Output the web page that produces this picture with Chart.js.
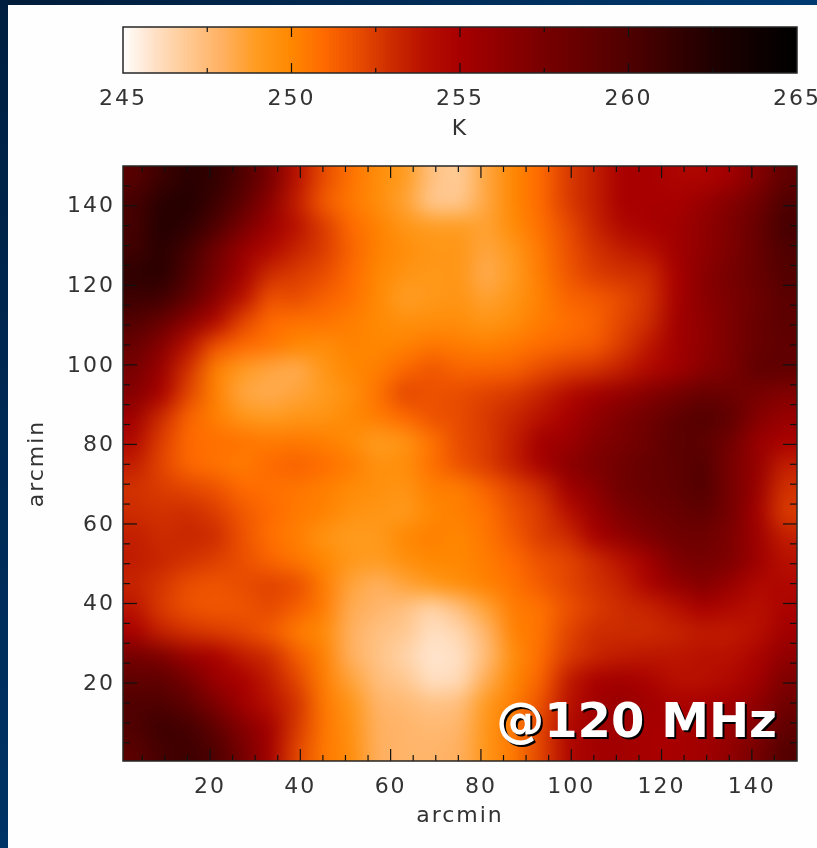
<!DOCTYPE html>
<html><head><meta charset="utf-8">
<style>
html,body{margin:0;padding:0;background:#fefefe;width:817px;height:848px;overflow:hidden}
#top{position:absolute;left:0;top:0;width:817px;height:5px;background:linear-gradient(90deg,#001c3a,#003a70)}
#left{position:absolute;left:0;top:0;width:8px;height:848px;background:linear-gradient(180deg,#001f40,#003366)}
#cbWrap{position:absolute;left:0;top:0;width:817px;height:145px}
#hmWrap{position:absolute;left:0;top:145px;width:817px;height:703px}
canvas{display:block}
</style>
<script src="https://cdn.jsdelivr.net/npm/chart.js@4"></script>
</head><body>
<div id="cbWrap"><canvas id="cb" width="817" height="145"></canvas></div>
<div id="hmWrap"><canvas id="hm" width="817" height="703"></canvas></div>
<div id="top"></div><div id="left"></div>
<script>
const colorbarLabels=[245,250,255,260,265];
const colorbarMinor=[247.5,252.5,257.5,262.5];
const axisMajor=[20,40,60,80,100,120,140];
const axisMinor=[5,10,15,25,30,35,45,50,55,65,70,75,85,90,95,105,110,115,125,130,135,145];
const cellX=[3,9,15,21,27,33,39,45,51,57,63,69,75,81,87,93,99,105,111,117,123,129,135,141,147];
const cellY=[147,141,135,129,123,117,111,105,99,93,87,81,75,69,63,57,51,45,39,33,27,21,15,9,3];
const colorStops=[[245,'#ffffff'],[246,'#ffe0c4'],[247,'#ffc890'],[248,'#ffb060'],[249,'#ff9c20'],[250,'#ff8800'],[251,'#ff6a00'],[252,'#e84c00'],[253,'#cc2c00'],[254,'#b81000'],[255,'#a80000'],[257.5,'#780000'],[260,'#500000'],[262.5,'#200000'],[265,'#000000']];
const temps=[
[259.5,261,262,261.5,260,257.5,254,252,250.7,249.7,249,247.3,246.8,248.5,250,251,252.5,253.5,255,255,254.7,254.7,255.3,256.8,259],
[260.5,262,262.3,261,259,256.5,253.5,251.5,250.5,249.7,248.7,247,247,248.5,250,251,252.5,253.5,255,255,255,255.8,256.8,258,260],
[260.5,262.3,261.7,260,257.5,255.5,254,252.5,251,250.2,249.3,249,249,248.7,249.8,250.8,252,253.3,254.5,255,255.3,256.2,257.2,258.5,260.5],
[260.8,262,260.5,258,255.8,254.5,253.3,252.5,251.2,250.2,249.7,249.3,249.3,248.5,249.2,250.5,251.8,252.8,253.5,254,255.3,256.2,257.2,258.5,260],
[261.7,262,260,257.5,255.3,253,252.5,252,251,250,249.4,249.2,249.3,248.2,249,250.4,251.6,252.5,252.8,253,255,256.5,257.6,258.5,259.8],
[261,260.8,259,256.5,254,251.8,252,251.3,250.8,249.9,248.9,249.2,249.4,248.7,249.3,250.2,251.2,251.5,252,252.8,255,256.5,257.3,258.2,259.3],
[259.8,258.5,256.5,254.5,252.2,251,250.7,250.7,250.3,249.9,249.6,249.7,249.7,249.3,249.7,250.4,250.8,251.2,252.2,253,255.3,256.2,257.3,258.5,259.2],
[258.5,256.7,254,251.8,251,250.6,250,249.7,250.2,250,250.2,250.6,250.4,250.2,250.5,250.9,251.2,251.5,252.5,253.8,255.3,256.2,257.3,258.5,259],
[257.5,255.7,252.8,250.2,249,248.5,248.2,249.3,250,250.3,251.1,251.7,251.2,251.2,251.3,252,252.5,252.8,253.5,254.5,255.3,256.5,257.3,259,259],
[256.8,255,252.2,250.2,248.5,248.2,248.6,249,249.6,250.7,252.2,251.8,252,252.3,252.6,253.3,254.3,255.3,256,256.8,257.6,258.5,258.2,257.5,257],
[255.5,253,251.2,250.3,249.3,249,249.3,249.4,249.9,250.4,251,251.8,252,252.6,253.2,254,255,256.2,257.2,258,259,259.8,259,256.8,255.8],
[254.5,252.4,251,250.8,250.7,250.4,250.5,250.3,249.8,249,249.4,250.7,252,252.5,253.5,255.3,255.5,256.8,257.4,258.2,259.3,259.1,258,255.8,255],
[253.5,252.2,251.1,250.7,250.4,251,251.3,250.9,250.4,249.5,249.7,250.8,251.8,252.5,253.5,255,256.5,257.2,258,258.6,259,259.8,257.4,256,253.5],
[252.8,252.5,252.2,251.8,251,250.8,250.6,250.3,249.8,249.6,249.4,250.3,250.3,251.2,252.2,253,255.3,256.5,258,258.5,259,259.8,257.6,255.8,252.8],
[253,252.8,253,252.5,251.6,251,250.5,250.2,249.5,249.3,249.1,250,250.3,250.7,251.8,252.5,254,255.8,257.2,258,258.5,259,257.6,255.3,252.5],
[253.5,253,253.2,253,251.8,250.8,250.3,249.4,249,249.1,250,250.3,250,250.6,251.5,252.5,253,255,256.2,257.2,258,258.2,257.2,255.5,253.5],
[253.6,253.2,252.8,252.4,251.9,251.2,250.6,250,249.2,249,249.6,250,250,250.4,251,251.8,252.2,253,254,255.3,257.2,257.6,257.2,255.5,254],
[253.3,252.7,251.9,251.7,252,252.3,252,250.4,248.6,248,248.6,249.2,249.7,250.2,250.7,251.5,252.2,252.8,253.4,254.8,256,256.8,255.8,254.5,254.5],
[253.9,252.5,251.8,251.6,251.7,252.1,251.4,250.4,248.2,247.8,247.3,246.5,247.4,248.7,250.4,250.7,251.8,252.5,253,253.3,254,255,254.5,254,254.8],
[255,253.4,252.8,252.5,252.2,251.5,250.4,249.8,248,247.3,247,246,246.4,247.8,250.2,250.7,252.2,253,253,253,253.3,253.6,253.6,254,255.3],
[257.6,257.2,255.7,255,253.6,253,251.5,250.2,248,247.2,246.5,245.8,246,247.5,249.7,250.9,252.5,253.2,253.6,253.8,253.8,254,254,254.8,256.2],
[259,259,257.6,255.7,255,253.6,252.2,250.3,248.6,247.4,247,246,246.2,248.2,250,251.2,253.6,255,255.3,254.8,254,254,254.5,255.3,257.2],
[260,260,259,257.2,255.3,254,252.8,250.5,249.3,247.8,247.6,247.2,247.4,249.1,250.3,251.8,253.9,255.3,255.8,255.3,254.8,255,255.3,256.2,258],
[260,261,260.5,259,256.8,255.3,252.6,250.6,249.5,248,247.8,247.6,247.8,249.3,250.5,252.2,254.5,255.3,255.3,255,255,255.3,255.8,256.8,259],
[259.3,260.5,261,260,257.6,255.3,252.2,250.5,249.7,248,247.8,247.8,248,249.3,250.5,252.2,254.5,255.3,255.3,255,255,255.3,256.2,257.6,259.8]
];
const TEXT='#333333', FONT='"DejaVu Sans"', FS=22;
function hexRgb(h){return [1,3,5].map(i=>parseInt(h.substr(i,2),16));}
function tempColor(v){
  let i=0;while(i<colorStops.length-2&&v>colorStops[i+1][0])i++;
  const a=colorStops[i],b=colorStops[i+1],t=Math.min(1,Math.max(0,(v-a[0])/(b[0]-a[0])));
  const ca=hexRgb(a[1]),cb=hexRgb(b[1]);
  return 'rgb('+ca.map((c,k)=>Math.round(c+(cb[k]-c)*t)).join(',')+')';
}
const cellPoints=[],cellColors=[];
temps.forEach((row,j)=>row.forEach((v,i)=>{cellPoints.push({x:cellX[i],y:cellY[j]});cellColors.push(tempColor(v));}));

function frame(ctx,a){ctx.save();ctx.strokeStyle='#262626';ctx.lineWidth=1.5;ctx.strokeRect(a.left,a.top,a.right-a.left,a.bottom-a.top);ctx.restore();}
function vTick(ctx,x,y0,y1){ctx.beginPath();ctx.moveTo(x,y0);ctx.lineTo(x,y1);ctx.stroke();}
function hTick(ctx,y,x0,x1){ctx.beginPath();ctx.moveTo(x0,y);ctx.lineTo(x1,y);ctx.stroke();}
const spacing={id:'spacing',beforeDraw(c){c.ctx.letterSpacing='2px';}};

const smooth={id:'smooth',afterDatasetsDraw(c){
  const {ctx,chartArea:a,scales:{x,y}}=c;
  const pad=4,nx=cellX.length,ny=cellY.length;
  const n=document.createElement('canvas');n.width=nx+2*pad;n.height=ny+2*pad;
  const s=n.getContext('2d');
  for(let j=-pad;j<ny+pad;j++)for(let i=-pad;i<nx+pad;i++){
    const ci=Math.min(nx-1,Math.max(0,i)),cj=Math.min(ny-1,Math.max(0,j));
    s.fillStyle=cellColors[cj*nx+ci];s.fillRect(i+pad,j+pad,1,1);
  }
  const cw=(x.getPixelForValue(150)-x.getPixelForValue(0))/nx,ch=(y.getPixelForValue(0)-y.getPixelForValue(150))/ny;
  ctx.save();ctx.beginPath();ctx.rect(a.left,a.top,a.right-a.left,a.bottom-a.top);ctx.clip();
  ctx.imageSmoothingEnabled=true;ctx.imageSmoothingQuality='low';ctx.filter='blur(7px)';
  ctx.drawImage(n,x.getPixelForValue(0)-pad*cw,y.getPixelForValue(150)-pad*ch,(nx+2*pad)*cw,(ny+2*pad)*ch);
  ctx.restore();
}};
const hmDecor={id:'hmDecor',afterDatasetsDraw(c){
  const {ctx,chartArea:a,scales:{x,y}}=c;
  ctx.save();ctx.strokeStyle='#111';ctx.lineWidth=1.2;
  axisMajor.forEach(v=>{const px=x.getPixelForValue(v),py=y.getPixelForValue(v);
    vTick(ctx,px,a.bottom,a.bottom-12);vTick(ctx,px,a.top,a.top+12);hTick(ctx,py,a.left,a.left+14);hTick(ctx,py,a.right,a.right-14);});
  axisMinor.forEach(v=>{const px=x.getPixelForValue(v),py=y.getPixelForValue(v);
    vTick(ctx,px,a.bottom,a.bottom-6);vTick(ctx,px,a.top,a.top+6);hTick(ctx,py,a.left,a.left+7);hTick(ctx,py,a.right,a.right-7);});
  ctx.restore();frame(ctx,a);
  ctx.save();ctx.letterSpacing='0px';ctx.font='bold 48px "DejaVu Sans"';ctx.textAlign='right';ctx.textBaseline='alphabetic';
  ctx.fillStyle='#000';ctx.fillText('@120 MHz',779,594);
  ctx.fillStyle='#fff';ctx.fillText('@120 MHz',777,592);
  ctx.restore();
}};
new Chart(document.getElementById('hm'),{
  type:'scatter',
  data:{datasets:[{data:cellPoints,pointStyle:'rect',pointRadius:20,pointHoverRadius:20,pointBorderWidth:0,backgroundColor:cellColors,borderColor:cellColors}]},
  plugins:[spacing,smooth,hmDecor],
  options:{responsive:false,animation:false,events:[],
    layout:{padding:{top:21,right:20,left:0,bottom:0}},
    plugins:{legend:{display:false},tooltip:{enabled:false}},
    scales:{
      x:{type:'linear',min:0.73,max:150,grid:{display:false},border:{display:false},
        afterBuildTicks(s){s.ticks=axisMajor.map(v=>({value:v}));},
        afterFit(s){s.height=87;s.paddingRight=0;s.paddingLeft=0;},
        ticks:{autoSkip:false,maxRotation:0,padding:5,color:TEXT,font:{family:FONT,size:FS}},
        title:{display:true,text:'arcmin',color:TEXT,font:{family:FONT,size:FS},padding:{top:0,bottom:19}}},
      y:{type:'linear',min:0.4,max:150,grid:{display:false},border:{display:false},
        afterBuildTicks(s){s.ticks=axisMajor.map(v=>({value:v}));},
        afterFit(s){s.width=123;},
        ticks:{autoSkip:false,padding:0,labelOffset:1,color:TEXT,font:{family:FONT,size:FS}},
        title:{display:true,text:'arcmin',color:TEXT,font:{family:FONT,size:FS},padding:{top:24,bottom:0}}}
    }}
});
const cbLevels=[];for(let k=0;k<=200;k++)cbLevels.push(245+k/10);
const cbDecor={id:'cbDecor',afterDatasetsDraw(c){
  const {ctx,chartArea:a,scales:{x}}=c;
  ctx.save();ctx.strokeStyle='#111';ctx.lineWidth=1.2;
  colorbarLabels.slice(1,-1).forEach(v=>{const p=x.getPixelForValue(v);vTick(ctx,p,a.bottom,a.bottom-10);vTick(ctx,p,a.top,a.top+10);});
  colorbarMinor.forEach(v=>{const p=x.getPixelForValue(v);vTick(ctx,p,a.bottom,a.bottom-5);vTick(ctx,p,a.top,a.top+5);});
  ctx.restore();frame(ctx,a);
}};
new Chart(document.getElementById('cb'),{
  type:'bar',
  data:{datasets:[{data:cbLevels.map(v=>({x:v,y:1})),backgroundColor:cbLevels.map(tempColor),barThickness:5,borderWidth:0}]},
  plugins:[spacing,cbDecor],
  options:{responsive:false,animation:false,events:[],
    layout:{padding:{top:27,left:123,right:20,bottom:0}},
    plugins:{legend:{display:false},tooltip:{enabled:false}},
    scales:{
      x:{type:'linear',offset:false,min:245,max:265,grid:{display:false},border:{display:false},
        afterBuildTicks(s){s.ticks=colorbarLabels.map(v=>({value:v}));},
        afterFit(s){s.height=72;s.paddingRight=0;s.paddingLeft=0;},
        ticks:{autoSkip:false,maxRotation:0,padding:5,color:TEXT,font:{family:FONT,size:FS}},
        title:{display:true,text:'K',color:TEXT,font:{family:FONT,size:FS},padding:{top:0,bottom:3}}},
      y:{display:false,min:0,max:1}
    }}
});
</script>
</body></html>
